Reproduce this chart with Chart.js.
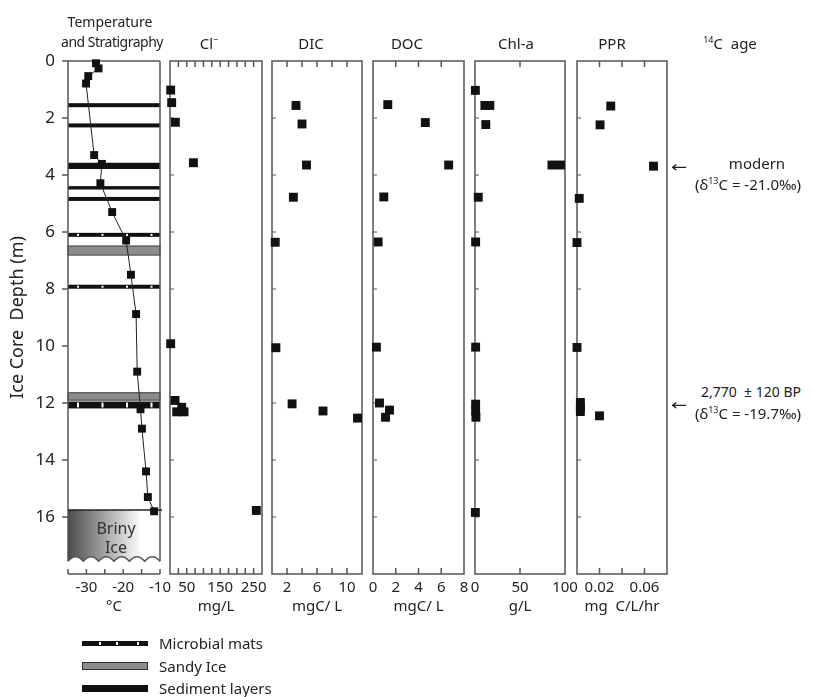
<!DOCTYPE html>
<html>
<head>
<meta charset="utf-8">
<title>Ice core profiles</title>
<script src="https://cdn.jsdelivr.net/npm/chart.js@4.4.1/dist/chart.umd.min.js"></script>
<style>
  body { margin: 0; width: 814px; height: 697px; position: relative; overflow: hidden; background: #fff;
         font-family: "Noto Sans", sans-serif; color: #222; }
  canvas { position: absolute; top: 0; }
  .lbl { position: absolute; white-space: nowrap; font-size: 15px; line-height: 1; transform: translate(-50%, -50%); }
  .lbl sup { font-size: 9px; vertical-align: 6px; line-height: 0; }
  .key { position: absolute; left: 82px; width: 66px; box-sizing: border-box; }
  .key span { position: absolute; top: 1px; width: 2px; height: 3px; background: #fff; }
  .keytext { position: absolute; left: 159px; font-size: 15px; line-height: 1; transform: translateY(-50%); white-space: nowrap; }
  .arrow { position: absolute; font-family: "DejaVu Sans", sans-serif; font-size: 15px; line-height: 1; transform: translate(-50%, -50%) scaleX(1.3); }
</style>
</head>
<body>
<canvas id="tempChart" width="180" height="630" style="left:0px"></canvas>
<canvas id="clChart" width="132" height="630" style="left:150px"></canvas>
<canvas id="dicChart" width="130" height="630" style="left:252px"></canvas>
<canvas id="docChart" width="131" height="630" style="left:353px"></canvas>
<canvas id="chlChart" width="130" height="630" style="left:455px"></canvas>
<canvas id="pprChart" width="130" height="630" style="left:557px"></canvas>

<!-- panel headers -->
<div class="lbl" style="left:110px;top:22px;font-size:14px">Temperature</div>
<div class="lbl" style="left:112px;top:42px;font-size:14px;letter-spacing:-0.5px">and Stratigraphy</div>
<div class="lbl" style="left:209px;top:43px">Cl<sup>−</sup></div>
<div class="lbl" style="left:311px;top:43px">DIC</div>
<div class="lbl" style="left:407px;top:43px">DOC</div>
<div class="lbl" style="left:516px;top:43px">Chl-a</div>
<div class="lbl" style="left:612px;top:43px">PPR</div>
<div class="lbl" style="left:730px;top:43px"><sup>14</sup>C&nbsp; age</div>

<!-- briny ice label -->
<div class="lbl" style="left:116px;top:528px;font-size:16px;color:#333">Briny</div>
<div class="lbl" style="left:116px;top:547px;font-size:16px;color:#333">Ice</div>

<!-- 14C ages -->
<div class="arrow" style="left:679px;top:167px">←</div>
<div class="lbl" style="left:757px;top:163px">modern</div>
<div class="lbl" style="left:748px;top:184px">(δ<sup>13</sup>C = -21.0‰)</div>
<div class="lbl" style="left:751px;top:392px;font-size:14px">2,770 &nbsp;± 120 BP</div>
<div class="arrow" style="left:679px;top:405px">←</div>
<div class="lbl" style="left:748px;top:413px">(δ<sup>13</sup>C = -19.7‰)</div>

<!-- stratigraphy key -->
<div class="key" style="top:641px;height:5px;background:#111"><span style="left:17px"></span><span style="left:34px"></span><span style="left:55px"></span></div>
<div class="keytext" style="top:643px">Microbial mats</div>
<div class="key" style="top:662px;height:8px;background:#8c8c8c;border:1px solid #333"></div>
<div class="keytext" style="top:666px">Sandy Ice</div>
<div class="key" style="top:685px;height:7px;background:#111"></div>
<div class="keytext" style="top:688px">Sediment layers</div>

<script>
// depth axis shared by all panels (m)
const depthMax = 18;
const depthTicks = [0, 2, 4, 6, 8, 10, 12, 14, 16];

// temperature profile (deg C)
const tempDepth = [0.08, 0.26, 0.53, 0.79, 3.3, 3.61, 4.29, 5.3, 6.3, 7.5, 8.88, 10.9, 12.22, 12.9, 14.4, 15.3, 15.8];
const tempValue = [-27.4, -26.7, -29.5, -30.1, -27.9, -25.8, -26.2, -23.0, -19.2, -17.9, -16.5, -16.2, -15.3, -14.9, -13.8, -13.3, -11.6];

// stratigraphy, depth ranges (m)
const sedimentLayers = [[1.48, 1.62], [2.19, 2.33], [3.57, 3.79], [4.39, 4.51], [4.77, 4.91]];
const sandyIce = [[6.49, 6.81], [11.64, 11.9]];
const microbialMats = [[6.03, 6.17], [7.85, 7.99], [11.95, 12.19]];
const brinyIceTop = 15.75;
const coreBottom = 17.55;

// chloride (mg/L)
const clDepth = [1.02, 1.46, 2.15, 3.57, 9.92, 11.91, 12.15, 12.31, 12.31, 15.77];
const clValue = [2, 5, 16, 70, 2, 15, 35, 20, 42, 258];

// dissolved inorganic carbon (mgC/L)
const dicDepth = [1.56, 2.21, 3.65, 4.78, 6.36, 10.06, 12.03, 12.28, 12.53];
const dicValue = [3.2, 4.0, 4.6, 2.85, 0.43, 0.52, 2.68, 6.8, 11.4];

// dissolved organic carbon (mgC/L)
const docDepth = [1.53, 2.16, 3.65, 4.77, 6.35, 10.04, 12.0, 12.25, 12.5];
const docValue = [1.3, 4.6, 6.65, 0.95, 0.45, 0.3, 0.57, 1.45, 1.1];

// chlorophyll-a (g/L)
const chlDepth = [1.03, 1.56, 1.56, 2.23, 3.65, 3.65, 4.78, 6.35, 10.04, 12.04, 12.29, 12.5, 15.84];
const chlValue = [0.4, 11, 16.5, 12, 85.5, 95, 3.6, 0.7, 0.7, 0.7, 0.7, 1, 0.4];

// primary production rate (mg C/L/hr)
const pprDepth = [1.58, 2.24, 3.69, 4.82, 6.37, 10.05, 11.98, 12.15, 12.3, 12.45];
const pprValue = [0.030, 0.0205, 0.068, 0.002, 0.0, 0.0, 0.003, 0.003, 0.003, 0.02];

// tick labels shown under each panel
const tempTickLabels = [-30, -20, -10];
const clTickLabels = [50, 150, 250];
const dicTickLabels = [2, 6, 10];
const docTickLabels = [0, 2, 4, 6, 8];
const chlTickLabels = [0, 50, 100];
const pprTickLabels = [0.02, 0.06];

Chart.defaults.font.family = '"Noto Sans", sans-serif';
Chart.defaults.color = '#222';

const frameColor = '#555';

function points(values, depths) {
    return values.map((v, i) => ({ x: v, y: depths[i] }));
}

function seg(ctx, x0, y0, x1, y1) {
    ctx.beginPath();
    ctx.moveTo(x0, y0);
    ctx.lineTo(x1, y1);
    ctx.stroke();
}

function innerTicks(scale) {
    return scale.ticks.map(t => t.value).filter(v => v > scale.min + 1e-9 && v < scale.max - 1e-9);
}

// wavy base of the core, drawn from xFrom to xTo
function wave(ctx, xFrom, xTo, yBase) {
    const n = 6, step = (xTo - xFrom) / n;
    for (let i = 0; i < n; i++) {
        const x0 = xFrom + i * step;
        ctx.quadraticCurveTo(x0 + step / 2, yBase - 9, x0 + step, yBase);
    }
}

function drawBox(ctx, a, x, y) {
    ctx.strokeRect(a.left, a.top, a.right - a.left, a.bottom - a.top);
    innerTicks(x).forEach(v => {
        const px = x.getPixelForValue(v);
        seg(ctx, px, a.top, px, a.top + 6);
        seg(ctx, px, a.bottom, px, a.bottom - 6);
    });
    ctx.lineWidth = 1;
    depthTicks.slice(1).forEach(d => {
        const py = y.getPixelForValue(d);
        seg(ctx, a.left, py, a.left + 4, py);
    });
}

function drawCoreColumn(ctx, a, x, y) {
    const w = a.right - a.left;
    const band = (d0, d1) => [y.getPixelForValue(d0), y.getPixelForValue(d1) - y.getPixelForValue(d0)];

    sandyIce.forEach(([d0, d1]) => {
        const [py, h] = band(d0, d1);
        ctx.fillStyle = '#8c8c8c';
        ctx.fillRect(a.left, py, w, h);
        ctx.lineWidth = 1;
        ctx.strokeStyle = '#3a3a3a';
        ctx.strokeRect(a.left, py, w, h);
    });
    sedimentLayers.forEach(([d0, d1]) => {
        const [py, h] = band(d0, d1);
        ctx.fillStyle = '#111';
        ctx.fillRect(a.left, py, w, h);
    });
    microbialMats.forEach(([d0, d1]) => {
        const [py, h] = band(d0, d1);
        ctx.fillStyle = '#111';
        ctx.fillRect(a.left, py, w, h);
        ctx.fillStyle = '#fff';
        for (let px = a.left + 9; px < a.right - 4; px += 24.5) ctx.fillRect(px, py + 1, 2, h - 2);
    });

    // briny ice with shaded fill
    const yb = y.getPixelForValue(brinyIceTop), ye = y.getPixelForValue(coreBottom);
    const g = ctx.createLinearGradient(a.left, 0, a.right, 0);
    g.addColorStop(0, '#4a4a4a');
    g.addColorStop(0.8, '#ffffff');
    ctx.beginPath();
    ctx.moveTo(a.left, yb);
    ctx.lineTo(a.right, yb);
    ctx.lineTo(a.right, ye);
    wave(ctx, a.right, a.left, ye);
    ctx.closePath();
    ctx.fillStyle = g;
    ctx.fill();

    ctx.strokeStyle = frameColor;
    ctx.lineWidth = 1.5;
    seg(ctx, a.left, a.top, a.right, a.top);
    seg(ctx, a.left, a.top, a.left, ye);
    seg(ctx, a.right, a.top, a.right, ye);
    ctx.beginPath();
    ctx.moveTo(a.right, ye);
    wave(ctx, a.right, a.left, ye);
    ctx.stroke();
    ctx.strokeStyle = '#222';
    seg(ctx, a.left, yb, a.right + 2, yb);

    // depth ticks and temperature axis
    ctx.strokeStyle = frameColor;
    depthTicks.forEach(d => {
        const py = y.getPixelForValue(d);
        seg(ctx, a.left - 6, py, a.left, py);
    });
    seg(ctx, a.left, a.bottom, a.right, a.bottom);
    x.ticks.forEach(t => {
        const px = x.getPixelForValue(t.value);
        seg(ctx, px, a.bottom, px, a.bottom - 5);
    });
}

const panelFrame = {
    id: 'panelFrame',
    beforeDatasetsDraw(chart, args, opts) {
        const { ctx, chartArea: a, scales: { x, y } } = chart;
        ctx.save();
        ctx.strokeStyle = frameColor;
        ctx.lineWidth = 1.5;
        if (opts.temperature) drawCoreColumn(ctx, a, x, y);
        else drawBox(ctx, a, x, y);
        ctx.restore();
    }
};

function markers(data) {
    return {
        data: data,
        backgroundColor: '#111',
        borderWidth: 0,
        pointStyle: 'rect',
        pointRadius: 6.3,
        clip: false
    };
}

function createPanel(canvasId, cfg) {
    const isTemp = !!cfg.temperature;
    return new Chart(document.getElementById(canvasId), {
        type: 'scatter',
        data: { datasets: cfg.datasets },
        options: {
            responsive: false,
            animation: false,
            events: [],
            layout: { padding: { top: 61, bottom: 10, left: isTemp ? 0 : 20, right: 20 } },
            plugins: {
                legend: { display: false },
                tooltip: { enabled: false },
                panelFrame: { temperature: isTemp }
            },
            scales: {
                x: {
                    type: 'linear',
                    min: cfg.min,
                    max: cfg.max,
                    grid: { display: false, drawTicks: false },
                    border: { display: false },
                    ticks: {
                        stepSize: cfg.step,
                        maxTicksLimit: 20,
                        autoSkip: false,
                        maxRotation: 0,
                        padding: 5,
                        font: { size: 15 },
                        callback: v => cfg.labels.some(l => Math.abs(l - v) < 1e-9) ? String(+v.toFixed(3)) : ''
                    },
                    title: { display: true, text: cfg.unit, font: { size: 15 }, padding: { top: 0, bottom: 4 } },
                    afterFit: s => { s.height = 46; }
                },
                y: {
                    type: 'linear',
                    reverse: true,
                    min: 0,
                    max: depthMax,
                    display: isTemp,
                    grid: { display: false, drawTicks: false },
                    border: { display: false },
                    ticks: {
                        stepSize: 2,
                        padding: 13,
                        font: { size: 17 },
                        callback: v => depthTicks.includes(v) ? v : ''
                    },
                    title: { display: true, text: 'Ice Core  Depth (m)', font: { size: 18 }, padding: { top: 7, bottom: 0 } },
                    afterFit: s => { s.width = isTemp ? 68 : 0; }
                }
            }
        },
        plugins: [panelFrame]
    });
}

createPanel('tempChart', {
    temperature: true, min: -35, max: -10, step: 5, labels: tempTickLabels, unit: '°C',
    datasets: [{
        data: points(tempValue, tempDepth),
        showLine: true,
        borderColor: '#222',
        borderWidth: 1,
        backgroundColor: '#111',
        pointBackgroundColor: '#111',
        pointBorderWidth: 0,
        pointStyle: 'rect',
        pointRadius: 5.6,
        clip: false
    }]
});
createPanel('clChart', { min: 0, max: 275, step: 25, labels: clTickLabels, unit: 'mg/L',
    datasets: [markers(points(clValue, clDepth))] });
createPanel('dicChart', { min: 0, max: 12, step: 2, labels: dicTickLabels, unit: 'mgC/ L',
    datasets: [markers(points(dicValue, dicDepth))] });
createPanel('docChart', { min: 0, max: 8, step: 2, labels: docTickLabels, unit: 'mgC/ L',
    datasets: [markers(points(docValue, docDepth))] });
createPanel('chlChart', { min: 0, max: 100, step: 50, labels: chlTickLabels, unit: 'g/L',
    datasets: [markers(points(chlValue, chlDepth))] });
createPanel('pprChart', { min: 0, max: 0.08, step: 0.02, labels: pprTickLabels, unit: 'mg  C/L/hr',
    datasets: [markers(points(pprValue, pprDepth))] });
</script>
</body>
</html>
